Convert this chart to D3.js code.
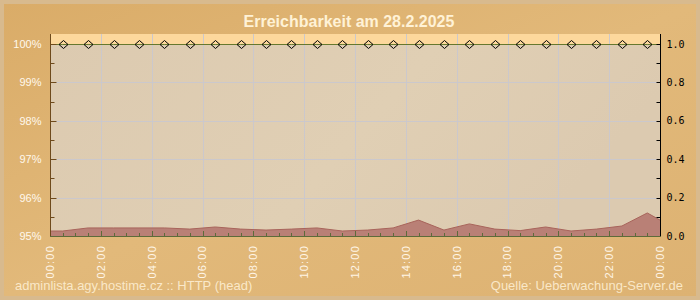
<!DOCTYPE html>
<html>
<head>
<meta charset="utf-8">
<script src="https://cdn.jsdelivr.net/npm/d3@7"></script>
<style>
  body { margin: 0; background: #dcb070; }
  svg { display: block; }
</style>
</head>
<body>
<div id="chart"></div>
<script>
// availability samples (percent) at half past each hour
var availHours = [0.5, 1.5, 2.5, 3.5, 4.5, 5.5, 6.5, 7.5, 8.5, 9.5, 10.5, 11.5,
                  12.5, 13.5, 14.5, 15.5, 16.5, 17.5, 18.5, 19.5, 20.5, 21.5, 22.5, 23.5];
var availValues = [100, 100, 100, 100, 100, 100, 100, 100, 100, 100, 100, 100,
                   100, 100, 100, 100, 100, 100, 100, 100, 100, 100, 100, 100];
// response time (seconds), right axis
var respHours = [0, 0.5, 1.5, 2.5, 3.5, 4.5, 5.5, 6.5, 7.5, 8.5, 9.5, 10.5, 11.5,
                 12.5, 13.5, 14.5, 15.5, 16.5, 17.5, 18.5, 19.5, 20.5, 21.5, 22.5, 23.5, 24];
var respValues = [0.026, 0.026, 0.042, 0.042, 0.042, 0.042, 0.036, 0.047, 0.036, 0.031, 0.036, 0.042, 0.026,
                  0.031, 0.042, 0.083, 0.031, 0.063, 0.036, 0.028, 0.047, 0.026, 0.036, 0.052, 0.12, 0.083];
var xTickHours = [0, 2, 4, 6, 8, 10, 12, 14, 16, 18, 20, 22, 24];
var xTickLabels = ['00:00', '02:00', '04:00', '06:00', '08:00', '10:00', '12:00',
                   '14:00', '16:00', '18:00', '20:00', '22:00', '00:00'];
var leftTicks = [95, 96, 97, 98, 99, 100];
var rightTicks = [0, 0.2, 0.4, 0.6, 0.8, 1.0];
var title = 'Erreichbarkeit am 28.2.2025';
var footLeft = 'adminlista.agy.hostime.cz :: HTTP (head)';
var footRight = 'Quelle: Ueberwachung-Server.de';

var W = 700, H = 300;
var pLeft = 50, pRight = 660, pTop = 34, pBottom = 236;

var x = d3.scaleLinear().domain([0, 24]).range([pLeft, pRight]);
var yA = d3.scaleLinear().domain([95, 100.26]).range([pBottom, pTop]);
var yR = d3.scaleLinear().domain([0, 1]).range([pBottom, yA(100)]);

var svg = d3.select('#chart').append('svg').attr('width', W).attr('height', H);
var defs = svg.append('defs');

var bg = defs.append('linearGradient').attr('id', 'bg').attr('x1', 0).attr('y1', 0).attr('x2', 1).attr('y2', 1);
bg.append('stop').attr('offset', '0%').attr('stop-color', '#daac68');
bg.append('stop').attr('offset', '50%').attr('stop-color', '#e2b97a');
bg.append('stop').attr('offset', '100%').attr('stop-color', '#ddb272');

var pg = defs.append('linearGradient').attr('id', 'pg').attr('x1', 0).attr('y1', 0).attr('x2', 1).attr('y2', 0.3);
pg.append('stop').attr('offset', '0%').attr('stop-color', '#dccab0');
pg.append('stop').attr('offset', '60%').attr('stop-color', '#e0cfb4');
pg.append('stop').attr('offset', '100%').attr('stop-color', '#dccab0');

// frame
svg.append('rect').attr('width', W).attr('height', H).attr('fill', '#d8ba8e');
svg.append('rect').attr('x', 4).attr('y', 4).attr('width', W - 8).attr('height', H - 8).attr('fill', 'url(#bg)');

// plot background + band above 100%
svg.append('rect').attr('x', pLeft).attr('y', pTop).attr('width', pRight - pLeft).attr('height', pBottom - pTop)
    .attr('fill', 'url(#pg)');
svg.append('rect').attr('x', pLeft).attr('y', pTop).attr('width', pRight - pLeft).attr('height', yA(100) - pTop)
    .attr('fill', '#fdd89c');

// grid
var grid = svg.append('g').attr('stroke', '#cbc8cc').attr('stroke-width', 1);
grid.selectAll('line.h').data(leftTicks.slice(1, -1)).enter().append('line')
    .attr('x1', pLeft).attr('x2', pRight)
    .attr('y1', function (d) { return Math.round(yA(d)) + 0.5; })
    .attr('y2', function (d) { return Math.round(yA(d)) + 0.5; });
grid.selectAll('line.v').data(xTickHours.slice(1, -1)).enter().append('line')
    .attr('y1', pTop).attr('y2', pBottom)
    .attr('x1', function (d) { return Math.round(x(d)) + 0.5; })
    .attr('x2', function (d) { return Math.round(x(d)) + 0.5; });

// response time area
var resp = respHours.map(function (h, i) { return { h: h, v: respValues[i] }; });
svg.append('path').datum(resp)
    .attr('fill', '#b98076')
    .attr('d', d3.area().x(function (d) { return x(d.h); }).y0(pBottom).y1(function (d) { return yR(d.v); }));
svg.append('path').datum(resp)
    .attr('fill', 'none').attr('stroke', '#a8645b').attr('stroke-width', 1)
    .attr('d', d3.line().x(function (d) { return x(d.h); }).y(function (d) { return yR(d.v); }));

// availability line
var avail = availHours.map(function (h, i) { return { h: h, v: availValues[i] }; });
var lineData = [{ h: 0, v: availValues[0] }].concat(avail, [{ h: 24, v: availValues[availValues.length - 1] }]);
svg.append('path').datum(lineData)
    .attr('fill', 'none').attr('stroke', '#66782e').attr('stroke-width', 1)
    .attr('d', d3.line().x(function (d) { return x(d.h); }).y(function (d) { return Math.round(yA(d.v)) + 0.5; }));
svg.selectAll('path.dia').data(avail).enter().append('path')
    .attr('class', 'dia')
    .attr('fill', 'none').attr('stroke', '#000').attr('stroke-width', 1)
    .attr('d', function (d) {
        var cx = Math.round(x(d.h)) + 0.5, cy = Math.round(yA(d.v)) + 0.5;
        return 'M' + (cx - 4.5) + ',' + cy + 'L' + cx + ',' + (cy - 4) + 'L' + (cx + 4.5) + ',' + cy +
            'L' + cx + ',' + (cy + 4) + 'Z';
    });

// left axis
var la = svg.append('g').attr('transform', 'translate(' + (pLeft + 0.5) + ',0)');
la.append('line').attr('y1', pTop).attr('y2', pBottom + 1).attr('stroke', '#6e4a1c');
la.selectAll('line.t').data(d3.range(95, 100.01, 0.5)).enter().append('line')
    .attr('stroke', '#6e4a1c')
    .attr('x1', 0).attr('x2', function (d) { return d % 1 === 0 ? 6 : 4; })
    .attr('y1', function (d) { return Math.round(yA(d)) + 0.5; })
    .attr('y2', function (d) { return Math.round(yA(d)) + 0.5; });
la.selectAll('text').data(leftTicks).enter().append('text')
    .attr('x', -9).attr('y', function (d) { return yA(d); }).attr('dy', '0.36em')
    .attr('text-anchor', 'end').attr('fill', '#fff8ec')
    .attr('font-family', 'Liberation Sans, Arial, sans-serif').attr('font-size', 11)
    .text(function (d) { return d + '%'; });

// right axis
var ra = svg.append('g').attr('transform', 'translate(' + (pRight + 0.5) + ',0)');
ra.append('line').attr('y1', pTop).attr('y2', pBottom + 1).attr('stroke', '#000');
ra.selectAll('line.t').data(d3.range(0, 11)).enter().append('line')
    .attr('stroke', '#000')
    .attr('x1', -4).attr('x2', 0)
    .attr('y1', function (d) { return Math.round(yR(d / 10)) + 0.5; })
    .attr('y2', function (d) { return Math.round(yR(d / 10)) + 0.5; });
ra.selectAll('text').data(rightTicks).enter().append('text')
    .attr('x', 6).attr('y', function (d) { return yR(d); }).attr('dy', '0.36em')
    .attr('fill', '#000')
    .attr('font-family', 'DejaVu Sans Mono, monospace').attr('font-size', 10)
    .text(function (d) { return d.toFixed(1); });

// bottom axis
var ba = svg.append('g');
ba.append('line').attr('x1', pLeft).attr('x2', pRight + 1)
    .attr('y1', pBottom + 0.5).attr('y2', pBottom + 0.5).attr('stroke', '#5d6b3a');
ba.selectAll('line.t').data(d3.range(1, 48)).enter().append('line')
    .attr('stroke', '#5d6b3a')
    .attr('x1', function (d) { return Math.round(x(d / 2)) + 0.5; })
    .attr('x2', function (d) { return Math.round(x(d / 2)) + 0.5; })
    .attr('y1', pBottom).attr('y2', function (d) { return pBottom - (d % 4 === 0 ? 5 : 3); });
ba.selectAll('text').data(xTickHours).enter().append('text')
    .attr('transform', function (d) { return 'translate(' + x(d) + ',' + (pBottom + 9) + ') rotate(-90)'; })
    .attr('dy', '0.36em').attr('text-anchor', 'end')
    .attr('fill', '#fff5e6')
    .attr('font-family', 'Liberation Sans, Arial, sans-serif').attr('font-size', 11)
    .attr('letter-spacing', 1.2)
    .text(function (d, i) { return xTickLabels[i]; });

// title & footers
svg.append('text').attr('x', 349).attr('y', 27).attr('text-anchor', 'middle')
    .attr('fill', '#fff2d6').attr('font-weight', 'bold')
    .attr('font-family', 'Liberation Sans, Arial, sans-serif').attr('font-size', 16)
    .text(title);
svg.append('text').attr('x', 15).attr('y', 290)
    .attr('fill', '#fff2d8').attr('fill-opacity', 0.85)
    .attr('font-family', 'Liberation Sans, Arial, sans-serif').attr('font-size', 13)
    .text(footLeft);
svg.append('text').attr('x', 683).attr('y', 290).attr('text-anchor', 'end')
    .attr('fill', '#fff2d8').attr('fill-opacity', 0.85)
    .attr('font-family', 'Liberation Sans, Arial, sans-serif').attr('font-size', 13)
    .text(footRight);
</script>
</body>
</html>
